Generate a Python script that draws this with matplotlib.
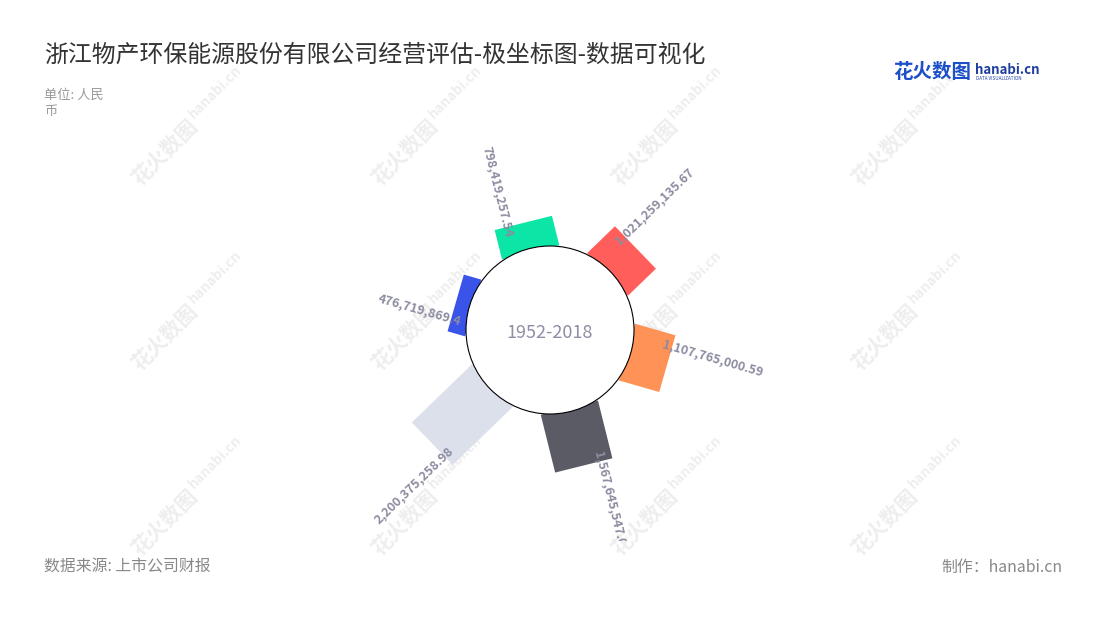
import matplotlib
matplotlib.use("Agg")
import matplotlib.pyplot as plt
from matplotlib.patches import Rectangle, Circle
from matplotlib.transforms import Affine2D
import numpy as np

plt.rcParams['font.family'] = ['Noto Sans CJK SC', 'DejaVu Sans']

# data: clockwise from the top
values = [798419257.54, 1021259135.67, 1107765000.59, 1567645547.06, 2200375258.98, 476719869.40]
colors = ['#0be5a5', '#ff5e5a', '#ff9257', '#5b5b66', '#dbe0ea', '#3a53e8']
title = '浙江物产环保能源股份有限公司经营评估-极坐标图-数据可视化'
period = '1952-2018'
unit = '单位: 人民\n币'
source = '数据来源: 上市公司财报'
credit = '制作：hanabi.cn'

W, H = 1100, 620
CX, CY = 550, 330        # chart centre in pixels from top-left
CLIP_Y = 541             # chart area bottom
R_CIRCLE = 84
R0 = 80                  # inner edge of bars
BAR_W = 59
PX_PER_YUAN = 0.038e-6
START = -14              # degrees, clockwise from up
LBL_COL = '#8c8ca1'

fig = plt.figure(figsize=(W / 100, H / 100), dpi=100)

def fx(x):
    return x / W

def fy(y):
    return 1 - y / H

# watermark
for i in range(4):
    for j in range(3):
        x0, y0 = 165 + 240 * i, 152 + 185 * j
        fig.text(fx(x0), fy(y0), '花火数图', rotation=45, ha='center', va='center',
                 fontsize=15, fontweight='bold', color='#eeeeee', zorder=0)
        fig.text(fx(x0 + 50), fy(y0 - 60), 'hanabi.cn', rotation=45, ha='center', va='center',
                 fontsize=10, fontweight='bold', color='#eeeeee', zorder=0)

ax = fig.add_axes([0, fy(CLIP_Y), 1, CLIP_Y / H])
ax.set_zorder(2)
ax.set_xlim(-CX, W - CX)
ax.set_ylim(-(CLIP_Y - CY), CY)
ax.axis('off')
ax.patch.set_alpha(0)

def fmt(v):
    s = f"{v:,.2f}"
    if s.endswith('0'):
        s = s[:-1]
    return s

n = len(values)
for i, (v, c) in enumerate(zip(values, colors)):
    th = (START + 360 / n * i) % 360
    length = v * PX_PER_YUAN
    tr = Affine2D().rotate_deg(-th) + ax.transData
    ax.add_patch(Rectangle((-BAR_W / 2, R0), BAR_W, length, facecolor=c,
                           edgecolor='none', transform=tr, zorder=2))
    # label along the radial direction
    rad = np.radians(th)
    u = np.array([np.sin(rad), np.cos(rad)])
    t = np.array([np.cos(rad), -np.sin(rad)])
    p = (R0 + length - 10) * u - 17 * t
    if th < 180:
        rot, ha = 90 - th, 'left'
    else:
        rot, ha = 270 - th, 'right'
    ax.text(p[0], p[1], fmt(v), rotation=rot, rotation_mode='anchor', ha=ha, va='center',
            fontsize=9, fontweight='bold', color=LBL_COL, zorder=4, clip_on=True)

ax.add_patch(Circle((0, 0), R_CIRCLE, facecolor='white', edgecolor='black', lw=0.8, zorder=3))
ax.text(0, -3, period, ha='center', va='center', fontsize=13, color='#8e8ea6', zorder=4)

# header / footer
fig.text(fx(44), fy(55), title, ha='left', va='center', fontsize=17.2, color='#333333')
fig.text(fx(44), fy(89), unit, ha='left', va='top', fontsize=9.5, color='#999999',
         linespacing=1.35)
fig.text(fx(44), fy(567), source, ha='left', va='center', fontsize=11.4, color='#888888')
fig.text(fx(1062), fy(567), credit, ha='right', va='center', fontsize=11.4, color='#888888')

# logo
fig.text(fx(893), fy(72), '花火数图', ha='left', va='center', fontsize=14,
         fontweight='bold', color='#1d4fc9')
fig.text(fx(975), fy(70), 'hanabi.cn', ha='left', va='center', fontsize=9.5,
         fontweight='bold', color='#1f3f9f')
fig.text(fx(976), fy(79), 'DATA VISUALIZATION', ha='left', va='center', fontsize=3.3,
         color='#1f3f9f')

fig.savefig('out.png', dpi=100)
